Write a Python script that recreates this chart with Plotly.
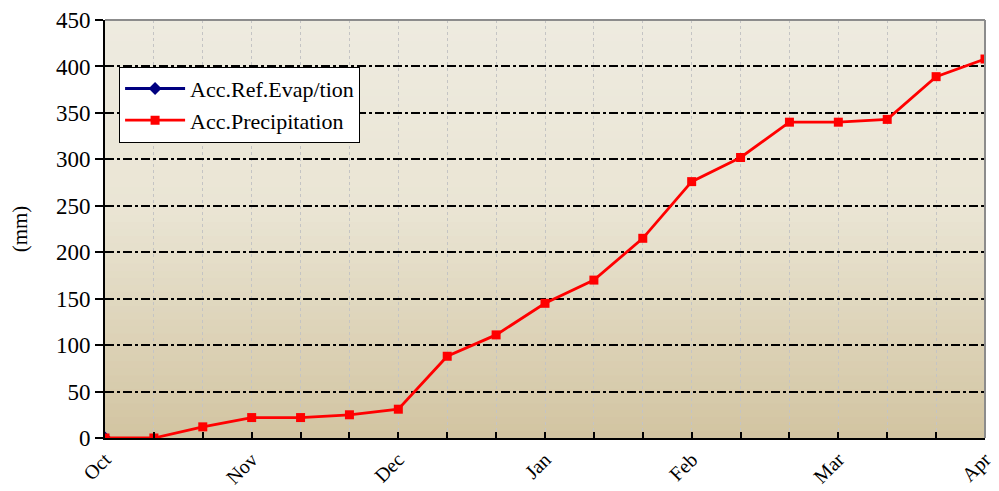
import plotly.graph_objects as go

# ---- data ----
x_index = list(range(19))
month_labels = ["Oct", "", "", "Nov", "", "", "Dec", "", "", "Jan", "", "", "Feb", "", "", "Mar", "", "", "Apr"]
acc_precip = [0, 0, 12, 22, 22, 25, 31, 88, 111, 145, 170, 215, 276, 302, 340, 340, 343, 389, 408]
acc_evap = [0] + [None] * 18
y_ticks = [0, 50, 100, 150, 200, 250, 300, 350, 400, 450]

FONT = "Liberation Serif"

fig = go.Figure()
fig.add_trace(go.Scatter(
    x=x_index, y=acc_evap, name="Acc.Ref.Evap/tion", mode="lines+markers",
    line=dict(color="#000080", width=3),
    marker=dict(symbol="diamond", size=10, color="#000080"),
))
fig.add_trace(go.Scatter(
    x=x_index, y=acc_precip, name="Acc.Precipitation", mode="lines+markers",
    line=dict(color="#FF0000", width=2.8),
    marker=dict(symbol="square", size=9, color="#FF0000"),
))

# gradient background bands (styling only)
def lerp(c1, c2, t):
    return tuple(round(a + (b - a) * t) for a, b in zip(c1, c2))

top = (238, 235, 224)
mid = (234, 229, 212)
bot = (210, 196, 161)
n = 60
shapes = []
for i in range(n):
    f0 = i / n
    f1 = (i + 1) / n
    fc = (f0 + f1) / 2  # fraction from bottom
    if fc > 0.55:
        c = lerp(mid, top, (fc - 0.55) / 0.45)
    else:
        c = lerp(bot, mid, fc / 0.55)
    shapes.append(dict(type="rect", xref="x domain", yref="y domain",
                       x0=0, x1=1, y0=f0, y1=f1 + 0.002, layer="below",
                       line=dict(width=0), fillcolor="rgb(%d,%d,%d)" % c))
# top and right border
shapes.append(dict(type="line", xref="x domain", yref="y domain", x0=0, x1=1, y0=1, y1=1,
                   line=dict(color="#8c8c8c", width=2), layer="above"))
shapes.append(dict(type="line", xref="x domain", yref="y domain", x0=1, x1=1, y0=0, y1=1,
                   line=dict(color="#8c8c8c", width=2), layer="above"))

fig.update_layout(
    width=991, height=483,
    margin=dict(l=97, r=14, t=12, b=53),
    paper_bgcolor="white",
    plot_bgcolor="rgb(234,229,212)",
    font=dict(family=FONT, size=23, color="black"),
    shapes=shapes,
    showlegend=True,
    legend=dict(
        x=0.016, y=0.888, xanchor="left", yanchor="top",
        bgcolor="white", bordercolor="black", borderwidth=1,
        font=dict(family=FONT, size=22), tracegroupgap=0,
        itemwidth=60,
    ),
    xaxis=dict(
        range=[0, 18], tickmode="array", tickvals=x_index, ticktext=month_labels,
        tickangle=-45, ticks="inside", ticklen=6, tickwidth=2, tickcolor="black",
        showline=True, linecolor="black", linewidth=2,
        showgrid=True, gridcolor="#c4c4c4", griddash="dot", gridwidth=1,
        zeroline=False, tickfont=dict(family=FONT, size=20), automargin=False,
    ),
    yaxis=dict(
        range=[0, 450], tickmode="array", tickvals=y_ticks,
        ticks="outside", ticklen=8, tickwidth=2, tickcolor="black",
        showline=True, linecolor="black", linewidth=2,
        showgrid=True, gridcolor="black", griddash="dashdot", gridwidth=1.5,
        zeroline=False, tickfont=dict(family=FONT, size=23), automargin=False,
        title=dict(text="(mm)", font=dict(family=FONT, size=21), standoff=26),
    ),
)

fig.write_html("out.html")
